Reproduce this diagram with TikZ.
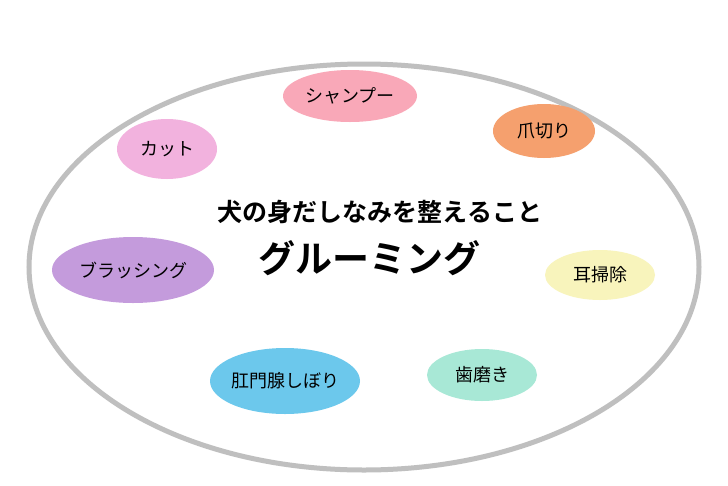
\documentclass[tikz,border=0pt]{standalone}
\usepackage{fontspec}
\newfontfamily\jp{Noto Sans CJK JP}
\newfontfamily\jpb{Noto Sans CJK JP Bold}
\begin{document}
\begin{tikzpicture}[x=1pt,y=-1pt,
  lbl/.style={font=\jp\fontsize{18}{21}\selectfont}]
\useasboundingbox (0,0) rectangle (728,485);
\fill[white] (0,0) rectangle (728,485);
\draw[line width=5pt,color=black!25] (364,267) ellipse [x radius=335, y radius=203];
\newcommand\blob[7]{%
  \fill[#6] (#2,#3) ellipse [x radius=#4, y radius=#5];
  \node[lbl] (#1) at (#2,#3) {#7};}
\definecolor{cShamp}{HTML}{F9A8B8}
\definecolor{cCut}{HTML}{F2B2DE}
\definecolor{cNail}{HTML}{F5A06E}
\definecolor{cBrush}{HTML}{C49BDC}
\definecolor{cEar}{HTML}{F8F4BC}
\definecolor{cAnal}{HTML}{6CC8EC}
\definecolor{cTeeth}{HTML}{A8E8D6}
\blob{shamp}{350}{96}{67}{26}{cShamp}{シャンプー}
\blob{cut}{167}{149}{50}{30}{cCut}{カット}
\blob{nail}{544}{131}{51}{27}{cNail}{爪切り}
\blob{brush}{133}{270}{81}{33}{cBrush}{ブラッシング}
\blob{ear}{600}{275}{55}{25}{cEar}{耳掃除}
\blob{anal}{285}{381}{75}{33}{cAnal}{肛門腺しぼり}
\blob{teeth}{482}{375}{55}{26}{cTeeth}{歯磨き}
\node[font=\jpb\fontsize{25}{29}\selectfont] (sub) at (380,212) {犬の身だしなみを整えること};
\node[font=\jpb\fontsize{37}{42}\selectfont] (title) at (369,258) {グルーミング};
\end{tikzpicture}
\end{document}
